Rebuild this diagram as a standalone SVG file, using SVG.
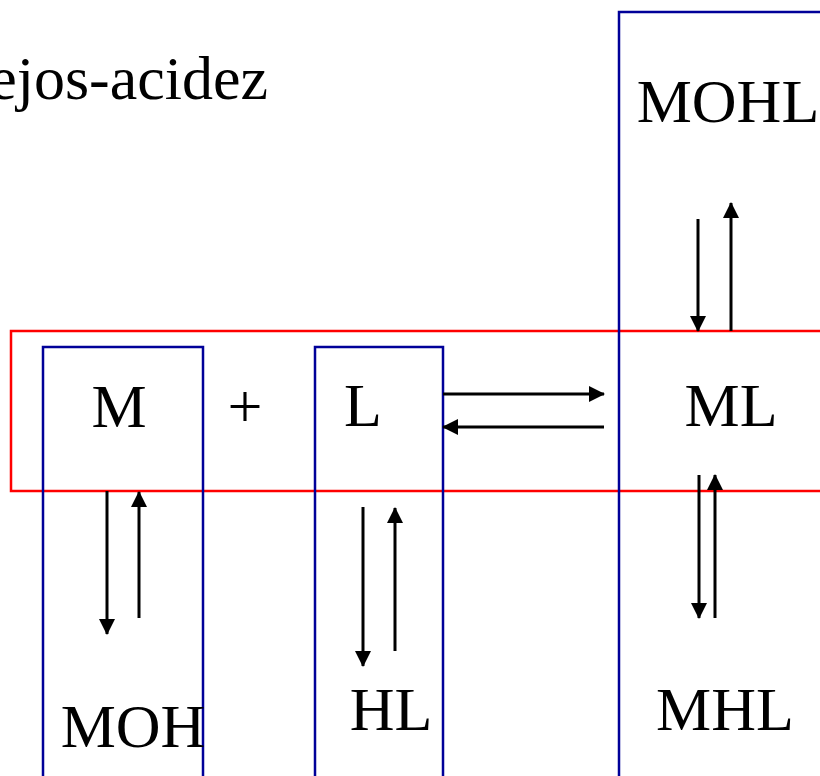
<svg xmlns="http://www.w3.org/2000/svg" width="820" height="776" viewBox="0 0 820 776">
<defs>
<style>
.t{font-family:"Liberation Serif","Times New Roman",serif;font-size:62px;fill:#000}
.blue{fill:none;stroke:#000099;stroke-width:2.5}
.red{fill:none;stroke:#ff0000;stroke-width:2.5}
.arr{stroke:#000;stroke-width:3;fill:none;marker-end:url(#ah)}
</style>
<marker id="ah" markerUnits="userSpaceOnUse" markerWidth="16" markerHeight="16" viewBox="0 0 16 16" refX="15" refY="8" orient="auto">
<path d="M0,0 L16,8 L0,16 Z" fill="#000"/>
</marker>
</defs>
<rect width="820" height="776" fill="#fff"/>
<text class="t" x="268" y="99" text-anchor="end">ejos-acidez</text>
<g id="complex-box"><rect class="red" x="11" y="331" width="830" height="160"/></g>
<g id="M"><rect class="blue" x="43" y="347" width="160" height="450"/><text class="t" x="119" y="427" text-anchor="middle">M</text></g>
<g id="plus"><text class="t" x="245" y="427" text-anchor="middle">+</text></g>
<g id="L"><rect class="blue" x="315" y="347" width="128" height="450"/><text class="t" x="363" y="426" text-anchor="middle">L</text></g>
<g id="ML-box"><rect class="blue" x="619" y="12" width="230" height="790"/></g>
<g id="ML"><text class="t" x="731" y="426" text-anchor="middle">ML</text></g>
<g id="MOHL"><text class="t" x="728" y="122" text-anchor="middle">MOHL</text></g>
<g id="MOH"><text class="t" x="133" y="747" text-anchor="middle">MOH</text></g>
<g id="HL"><text class="t" x="391" y="730" text-anchor="middle">HL</text></g>
<g id="MHL"><text class="t" x="725" y="730" text-anchor="middle">MHL</text></g>
<g id="connectors">
<line class="arr" x1="443" y1="394" x2="604" y2="394"/>
<line class="arr" x1="604" y1="427" x2="443" y2="427"/>
<line class="arr" x1="107" y1="491" x2="107" y2="634"/>
<line class="arr" x1="139" y1="618" x2="139" y2="492"/>
<line class="arr" x1="363" y1="507" x2="363" y2="666"/>
<line class="arr" x1="395" y1="651" x2="395" y2="508"/>
<line class="arr" x1="698" y1="219" x2="698" y2="331"/>
<line class="arr" x1="731" y1="331" x2="731" y2="203"/>
<line class="arr" x1="699" y1="475" x2="699" y2="618"/>
<line class="arr" x1="715" y1="618" x2="715" y2="475"/>
</g>
</svg>
